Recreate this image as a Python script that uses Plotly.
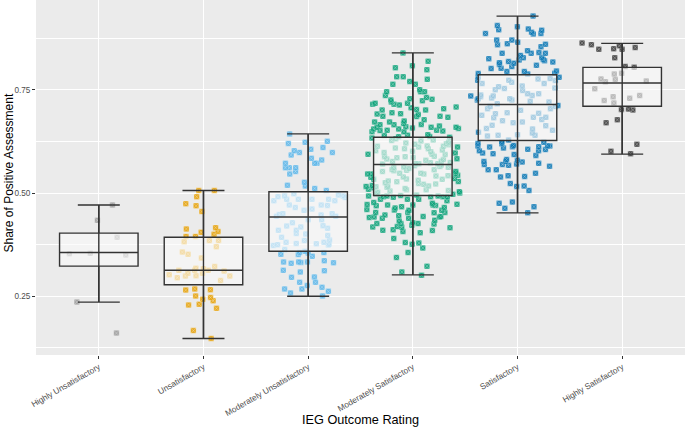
import plotly.graph_objects as go

categories = ["Highly Unsatisfactory", "Unsatisfactory", "Moderately Unsatisfactory",
              "Moderately Satisfactory", "Satisfactory", "Highly Satisfactory"]
colors = ["#999999", "#E69F00", "#56B4E9", "#009E73", "#0072B2", "#333333"]

# Box statistics
q1 = [0.323, 0.278, 0.359, 0.494, 0.627, 0.710]
median = [0.356, 0.313, 0.442, 0.569, 0.714, 0.766]
q3 = [0.403, 0.393, 0.503, 0.635, 0.786, 0.804]
whisker_low = [0.236, 0.148, 0.250, 0.302, 0.452, 0.594]
whisker_high = [0.471, 0.506, 0.643, 0.839, 0.928, 0.862]

# Individual project values
highly_unsat = [0.236, 0.161, 0.434, 0.353, 0.350, 0.354, 0.471, 0.393]
unsat = [0.506, 0.506, 0.491, 0.474, 0.469, 0.455, 0.407, 0.405, 0.400, 0.395,
         0.382, 0.413, 0.370, 0.385, 0.385, 0.416, 0.395, 0.357, 0.352, 0.343,
         0.322, 0.317, 0.318, 0.313, 0.313, 0.313, 0.306, 0.299, 0.300, 0.302,
         0.288, 0.295, 0.299, 0.311, 0.306, 0.268, 0.265, 0.266, 0.251, 0.247,
         0.239, 0.243, 0.229, 0.231, 0.221, 0.148, 0.167]
mod_unsat = [0.643, 0.625, 0.620, 0.623, 0.610, 0.598, 0.602, 0.606, 0.598, 0.592,
             0.584, 0.580, 0.572, 0.572, 0.572, 0.561, 0.561, 0.561, 0.552, 0.546,
             0.526, 0.519, 0.517, 0.511, 0.506,
             0.495, 0.481, 0.485, 0.485, 0.493, 0.485, 0.498, 0.491, 0.485, 0.481,
             0.493, 0.471, 0.470, 0.465, 0.458, 0.450, 0.450, 0.444, 0.448, 0.435,
             0.435, 0.421, 0.418, 0.415, 0.420, 0.428, 0.410, 0.410, 0.397, 0.402,
             0.393, 0.386, 0.385, 0.377, 0.378, 0.374, 0.363, 0.373, 0.376, 0.375,
             0.381, 0.471, 0.444, 0.401, 0.381, 0.489, 0.461, 0.447,
             0.352, 0.347, 0.355, 0.359, 0.351, 0.356, 0.356, 0.330, 0.331, 0.333,
             0.333, 0.333, 0.336, 0.332, 0.313, 0.309, 0.312, 0.296, 0.297, 0.284,
             0.284, 0.276, 0.272, 0.262, 0.268, 0.268, 0.258, 0.251]
mod_sat = [0.839, 0.819, 0.808, 0.803, 0.798, 0.781, 0.770, 0.775, 0.763, 0.763,
           0.750, 0.745, 0.745, 0.745, 0.731, 0.728, 0.723, 0.725, 0.720, 0.717,
           0.713, 0.715, 0.727, 0.717, 0.715, 0.706, 0.708, 0.702, 0.701, 0.701,
           0.692, 0.685, 0.690, 0.686, 0.694, 0.691, 0.677, 0.686, 0.674, 0.672,
           0.672, 0.668, 0.665, 0.665, 0.655, 0.655, 0.659, 0.666, 0.659, 0.650,
           0.660, 0.656, 0.652, 0.648, 0.641, 0.635, 0.639, 0.652, 0.651, 0.640,
           0.636, 0.648, 0.637, 0.657, 0.659, 0.781, 0.736, 0.704, 0.683, 0.662,
           0.633, 0.628, 0.626, 0.631, 0.621, 0.618, 0.614, 0.613, 0.627, 0.609,
           0.607, 0.604, 0.601, 0.623, 0.598, 0.594, 0.593, 0.617, 0.589, 0.588,
           0.586, 0.582, 0.607, 0.581, 0.577, 0.574, 0.611, 0.573, 0.571, 0.597,
           0.566, 0.564, 0.563, 0.588, 0.561, 0.557, 0.556, 0.579, 0.554, 0.552,
           0.548, 0.571, 0.547, 0.546, 0.543, 0.562, 0.541, 0.538, 0.535, 0.555,
           0.534, 0.533, 0.529, 0.546, 0.528, 0.527, 0.523, 0.539, 0.521, 0.518,
           0.517, 0.531, 0.515, 0.514, 0.511, 0.522, 0.509, 0.506, 0.505, 0.516,
           0.503, 0.502, 0.499, 0.508, 0.497, 0.602, 0.576, 0.548, 0.619, 0.585,
           0.559, 0.533, 0.594, 0.568, 0.542, 0.611, 0.583, 0.552, 0.525, 0.500,
           0.546, 0.516, 0.508, 0.600, 0.570, 0.513, 0.613, 0.571,
           0.494, 0.485, 0.491, 0.485, 0.495, 0.485, 0.491, 0.493, 0.491, 0.493,
           0.490, 0.491, 0.493, 0.471, 0.475, 0.467, 0.470, 0.471, 0.469, 0.477,
           0.472, 0.473, 0.471, 0.481, 0.465, 0.453, 0.453, 0.453, 0.458, 0.459,
           0.460, 0.458, 0.464, 0.452, 0.439, 0.441, 0.443, 0.442, 0.443, 0.442,
           0.445, 0.447, 0.439, 0.428, 0.434, 0.425, 0.426, 0.426, 0.432, 0.422,
           0.418, 0.426, 0.410, 0.417, 0.416, 0.411, 0.407, 0.409, 0.404, 0.419,
           0.390, 0.380, 0.376, 0.379, 0.367, 0.323, 0.309, 0.301, 0.356, 0.344]
sat = [0.928, 0.905, 0.902, 0.886, 0.897, 0.886, 0.894, 0.889, 0.895, 0.885,
       0.870, 0.865, 0.870, 0.860, 0.859, 0.861, 0.854, 0.844, 0.838, 0.833,
       0.840, 0.838, 0.838, 0.828, 0.827, 0.814, 0.815, 0.822, 0.823, 0.820,
       0.825, 0.817, 0.818, 0.806, 0.801, 0.794, 0.811, 0.802, 0.809, 0.795,
       0.789, 0.790, 0.788, 0.794,
       0.776, 0.780, 0.759, 0.736, 0.728, 0.740, 0.748, 0.737, 0.720, 0.777,
       0.753, 0.773, 0.780, 0.773, 0.765, 0.772, 0.768, 0.750, 0.735, 0.716,
       0.728, 0.722, 0.740, 0.735, 0.704, 0.683, 0.694, 0.672, 0.664, 0.682,
       0.675, 0.683, 0.663, 0.670, 0.700, 0.692, 0.678, 0.709, 0.647, 0.655,
       0.652, 0.641, 0.640, 0.638, 0.656, 0.693, 0.645, 0.640, 0.757, 0.725,
       0.765, 0.725, 0.709, 0.712, 0.733, 0.704, 0.730, 0.688, 0.754,
       0.615, 0.614, 0.605, 0.602, 0.614, 0.623, 0.619, 0.628, 0.620, 0.623,
       0.612, 0.611, 0.606, 0.609, 0.602, 0.614, 0.612, 0.595, 0.597, 0.581,
       0.570, 0.591, 0.576, 0.576, 0.565, 0.569, 0.593, 0.572, 0.575, 0.579,
       0.567, 0.569, 0.556, 0.542, 0.539, 0.548, 0.523, 0.516, 0.517, 0.506,
       0.556, 0.540, 0.478, 0.475, 0.467, 0.463, 0.452]
highly_sat = [0.852, 0.856, 0.849, 0.848, 0.848, 0.863, 0.859, 0.827, 0.804, 0.806,
              0.775, 0.771, 0.788, 0.790, 0.776, 0.769, 0.752, 0.724, 0.729, 0.733,
              0.736, 0.718, 0.701, 0.702, 0.703, 0.677, 0.670, 0.618, 0.595, 0.601]

series = [highly_unsat, unsat, mod_unsat, mod_sat, sat, highly_sat]

x_title = "IEG Outcome Rating"
y_title = "Share of Positive Assessment"

fig = go.Figure()

# jittered points (library jitter), box outline hidden
for cat, vals, col in zip(categories, series, colors):
    fig.add_trace(go.Box(
        x=[cat] * len(vals), y=vals,
        boxpoints="all", jitter=1, pointpos=0, width=0.9,
        fillcolor="rgba(0,0,0,0)", line=dict(width=0, color="rgba(0,0,0,0)"),
        whiskerwidth=0,
        marker=dict(symbol="square-x", size=5.5, color=col, opacity=0.85,
                    line=dict(width=0.6, color="rgba(255,255,255,0.45)")),
        showlegend=False, hoverinfo="y",
    ))

# semi-transparent boxes on top
fig.add_trace(go.Box(
    x=categories, q1=q1, median=median, q3=q3,
    lowerfence=whisker_low, upperfence=whisker_high,
    width=0.75, whiskerwidth=0, boxpoints=False,
    fillcolor="rgba(250,250,250,0.62)",
    line=dict(color="#333333", width=1.4),
    showlegend=False,
))

# error-bar style whiskers with caps
fig.add_trace(go.Scatter(
    x=categories, y=whisker_low, mode="markers",
    marker=dict(size=0.1, color="rgba(0,0,0,0)"),
    error_y=dict(type="data", symmetric=False,
                 array=[h - l for h, l in zip(whisker_high, whisker_low)],
                 arrayminus=[0] * len(categories),
                 color="#333333", thickness=1.4, width=21),
    showlegend=False, hoverinfo="skip",
))

fig.update_layout(
    width=685, height=428,
    margin=dict(l=36, r=0, t=0, b=73, autoexpand=False),
    paper_bgcolor="white", plot_bgcolor="#EBEBEB",
    boxmode="overlay",
    font=dict(family="Liberation Sans, Arial, sans-serif", color="#4D4D4D"),
    xaxis=dict(
        type="category", categoryorder="array", categoryarray=categories,
        range=[-0.6, 5.6], showgrid=True, gridcolor="white", gridwidth=1.1,
        zeroline=False, ticks="outside", ticklen=3, tickcolor="#333333",
        tickangle=-30, tickfont=dict(size=8.3, color="#4D4D4D"),
        automargin=False,
    ),
    yaxis=dict(
        range=[0.108, 0.967], tick0=0, dtick=0.25, tickformat=".2f",
        showgrid=True, gridcolor="white", gridwidth=1.1, zeroline=False,
        ticks="outside", ticklen=3, tickcolor="#333333",
        tickfont=dict(size=8.2, color="#4D4D4D"),
        minor=dict(dtick=0.125, showgrid=True, gridcolor="white", gridwidth=0.5),
        automargin=False,
    ),
    annotations=[
        dict(text=x_title, xref="paper", yref="paper", x=0.5, y=0,
             xanchor="center", yanchor="middle", yshift=-65, showarrow=False,
             font=dict(size=12.7, color="black")),
        dict(text=y_title, xref="paper", yref="paper", x=0, y=0.5,
             xanchor="center", yanchor="middle", xshift=-28, yshift=4,
             textangle=-90, showarrow=False,
             font=dict(size=12, color="black")),
    ],
)

fig.write_html("out.html", config={"displayModeBar": False},
               post_script="document.body.style.margin='0';")
